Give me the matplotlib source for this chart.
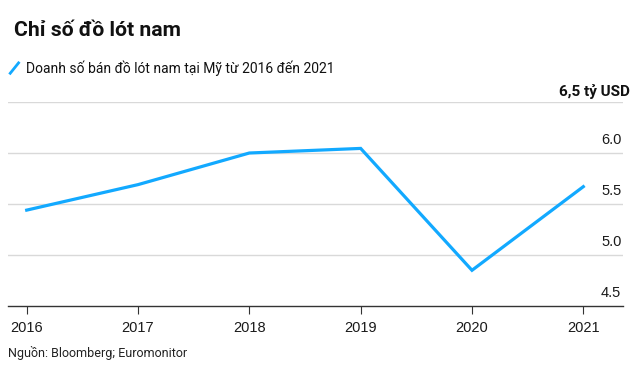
import matplotlib.pyplot as plt
import matplotlib.transforms as mtransforms

# Data
years = [2016, 2017, 2018, 2019, 2020, 2021]
sales = [5.44, 5.69, 6.00, 6.045, 4.85, 5.67]
y_ticks = [4.5, 5.0, 5.5, 6.0, 6.5]
y_labels = ['4.5', '5.0', '5.5', '6.0', '6,5 tỷ USD']

narrow = ['Roboto', 'DejaVu Sans']
regular = ['Liberation Sans', 'DejaVu Sans']
line_color = '#12a9ff'

fig = plt.figure(figsize=(6.4, 3.7), dpi=100)
ax = fig.add_axes([0.0125, 0.173, 0.9605, 0.5513])

ax.plot(years, sales, color=line_color, lw=2.3, solid_joinstyle='miter', zorder=3)

ax.set_xlim(2016 - 0.168, 2021.354)
ax.set_ylim(4.5, 6.5)

for s in ['top', 'left', 'right']:
    ax.spines[s].set_visible(False)
ax.spines['bottom'].set_color('#333333')
ax.spines['bottom'].set_linewidth(1.0)

ax.set_xticks(years)
ax.set_xticklabels([str(y) for y in years], family=regular, fontsize=10.5, color='#1a1a1a')
ax.tick_params(axis='x', length=6, width=0.8, color='#333333', pad=5)

ax.set_yticks([])
for v in y_ticks[1:]:
    ax.axhline(v, color='#d9d9d9', lw=1.0, zorder=1)

# right-side labels sitting above each gridline
trans = mtransforms.blended_transform_factory(ax.transAxes, ax.transData)
for v, lab in zip(y_ticks, y_labels):
    if v == 6.5:
        ax.annotate(lab, xy=(1.0, v), xycoords=trans, xytext=(5, 7.5),
                    textcoords='offset points', ha='right', va='center',
                    family=narrow, fontsize=11, fontweight='bold', color='#111111')
    else:
        ax.annotate(lab, xy=(1.0, v), xycoords=trans, xytext=(-1, 9.5),
                    textcoords='offset points', ha='right', va='center',
                    family=regular, fontsize=10.5, color='#1a1a1a')

fig.text(0.022, 0.917, 'Chỉ số đồ lót nam', family=narrow, fontsize=15.2,
         fontweight='bold', va='center', ha='left', color='#111111')

# legend
fig.add_artist(plt.Line2D([0.016, 0.029], [0.802, 0.83], color=line_color, lw=2.0))
fig.text(0.041, 0.815, 'Doanh số bán đồ lót nam tại Mỹ từ 2016 đến 2021', family=narrow,
         fontsize=10, va='center', ha='left', color='#111111')

fig.text(0.012, 0.046, 'Nguồn: Bloomberg; Euromonitor', family=narrow, fontsize=9,
         va='center', ha='left', color='#222222')

fig.savefig('out.png', dpi=100, facecolor='white')
